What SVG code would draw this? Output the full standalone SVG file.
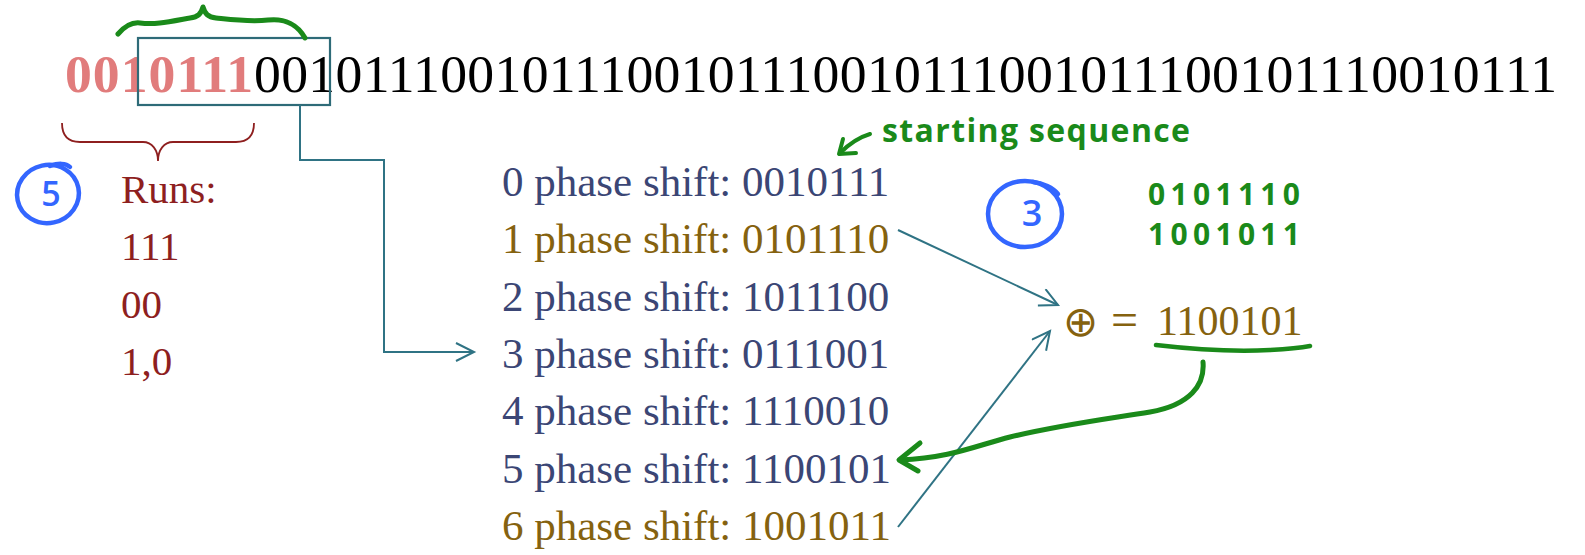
<svg xmlns="http://www.w3.org/2000/svg" width="1585" height="555" viewBox="0 0 1585 555">
<style>
  .serif { font-family: "Liberation Serif", "DejaVu Serif", serif; }
  .ph { font-size: 43px; fill: #3B4675; }
  .gold { fill: #85620F; }
  .runs { font-size: 41px; fill: #8E1F1F; }
  .teal { fill: none; stroke: #2F7384; stroke-width: 2; }
  .green { fill: none; stroke: #1A8A1A; stroke-linecap: round; stroke-linejoin: round; }
  .gtext { font-family: "Open Sans", "DejaVu Sans", sans-serif; fill: #1A8A1A; font-weight: bold; }
  .blue { fill: none; stroke: #3366FF; stroke-width: 4.5; stroke-linecap: round; }
  .btext { font-family: "Open Sans", "DejaVu Sans", sans-serif; fill: #3366FF; font-weight: 600; }
</style>
<defs>
  <marker id="arr" markerUnits="userSpaceOnUse" markerWidth="24" markerHeight="24" refX="19" refY="10" orient="auto">
    <path d="M1,1 L19,10 L1,19" fill="none" stroke="#2F7384" stroke-width="2"/>
  </marker>
</defs>
<rect width="1585" height="555" fill="#FFFFFF"/>

<g id="sequence">
  <text class="serif" x="65" y="92" font-size="53.7" font-weight="bold" fill="#E17C7C" textLength="188" lengthAdjust="spacing">0010111</text>
  <text class="serif" x="254" y="92" font-size="53.7" fill="#000000" textLength="1303" lengthAdjust="spacing">0010111001011100101110010111001011100101110010111</text>
  <rect x="138" y="38" width="192" height="67" fill="none" stroke="#2E6B78" stroke-width="2.2"/>
  <path class="green" stroke-width="5" d="M118,34 C125,26 132,22 140,23 C155,25 168,22 190,18 C198,17 201,14 203,7 C205,14 208,17 216,18 C235,20 250,22 268,20 C285,18 298,25 305,38"/>
  <path fill="none" stroke="#8E1F1F" stroke-width="1.8" d="M62,123 C62,136 68,142 80,142 L143,142 C152,142 158,150 158,161 C158,150 164,142 173,142 L236,142 C248,142 254,136 254,123"/>
</g>

<g id="runs">
  <ellipse class="blue" cx="48" cy="194" rx="31" ry="29" transform="rotate(-12 48 194)"/>
  <path class="blue" d="M50,166 C58,163 66,163 70,167"/>
  <text class="btext" x="51" y="206" font-size="34" text-anchor="middle">5</text>
  <text class="serif runs" x="121" y="203">Runs:</text>
  <text class="serif runs" x="121" y="260">111</text>
  <text class="serif runs" x="121" y="318">00</text>
  <text class="serif runs" x="121" y="375">1,0</text>
</g>

<g id="phases">
  <text class="serif ph" x="502" y="196">0 phase shift: 0010111</text>
  <text class="serif ph gold" x="502" y="253">1 phase shift: 0101110</text>
  <text class="serif ph" x="502" y="311">2 phase shift: 1011100</text>
  <text class="serif ph" x="502" y="368">3 phase shift: 0111001</text>
  <text class="serif ph" x="502" y="425">4 phase shift: 1110010</text>
  <text class="serif ph" x="502" y="483">5 phase shift: 1100101</text>
  <text class="serif ph gold" x="502" y="540">6 phase shift: 1001011</text>
</g>

<g id="xor">
  <text font-family="DejaVu Sans, sans-serif" class="gold" font-size="42" x="1063" y="336">⊕</text>
  <text class="serif gold" font-size="48" x="1111" y="336">=</text>
  <text class="serif gold" font-size="42" x="1157" y="335">1100101</text>
  <path class="green" stroke-width="4.5" d="M1156,345 C1190,349 1230,352 1270,350 C1290,349 1300,348 1310,346"/>
</g>

<g id="notes">
  <path class="green" stroke-width="4" d="M870,134 C860,137 850,143 840,153"/>
  <path class="green" stroke-width="4" d="M843,139 L839,154 L856,153"/>
  <text class="gtext" x="882" y="142" font-size="32" textLength="308" lengthAdjust="spacing">starting sequence</text>
  <ellipse class="blue" cx="1025" cy="214" rx="37" ry="33"/>
  <path class="blue" d="M1033,182 C1043,183 1053,188 1058,194"/>
  <text class="btext" x="1032" y="226" font-size="36" text-anchor="middle">3</text>
  <text class="gtext" x="1148" y="205" font-size="30" textLength="152" lengthAdjust="spacing">0101110</text>
  <text class="gtext" x="1148" y="245" font-size="30" textLength="152" lengthAdjust="spacing">1001011</text>
</g>

<g id="connectors">
  <polyline class="teal" points="300,105 300,160 384,160 384,352 474,352" marker-end="url(#arr)"/>
  <line class="teal" x1="898" y1="230" x2="1058" y2="305" marker-end="url(#arr)"/>
  <line class="teal" x1="898" y1="527" x2="1050" y2="331" marker-end="url(#arr)"/>
  <path class="green" stroke-width="5" d="M1203,362 C1205,385 1190,405 1150,412 C1100,420 1060,425 1010,437 C975,446 950,458 900,460"/>
  <path class="green" stroke-width="5" d="M920,443 L899,460 L918,471"/>
</g>
</svg>
